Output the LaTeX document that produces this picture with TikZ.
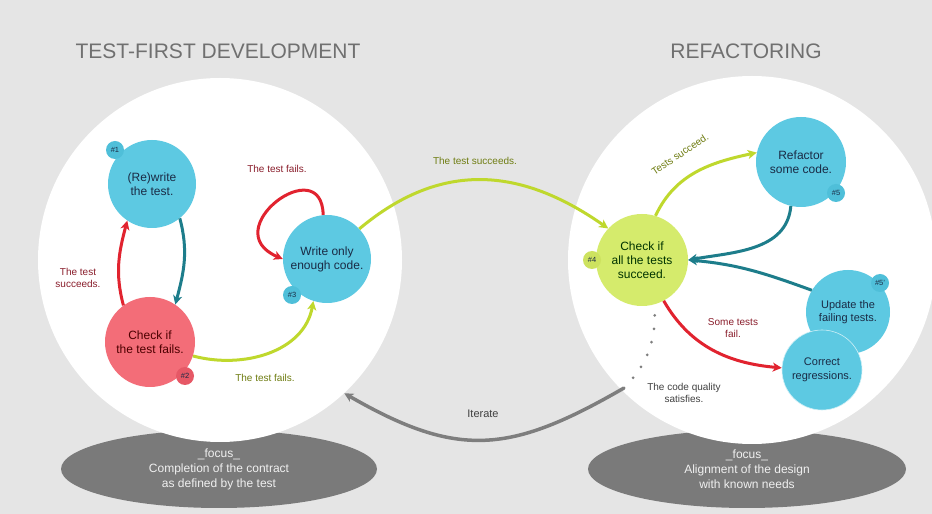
\documentclass[tikz,border=0pt]{standalone}
\usepackage{fontspec}
\setmainfont{Liberation Sans}
\usepackage{tikz}
\usetikzlibrary{arrows.meta, shapes.geometric}

\definecolor{bggray}{HTML}{E5E5E5}
\definecolor{titlegray}{HTML}{707070}
\definecolor{focusgray}{HTML}{7A7A7A}
\definecolor{nodecyan}{HTML}{5DC9E2}
\definecolor{badgecyan}{HTML}{4FBFD9}
\definecolor{nodered}{HTML}{F36D78}
\definecolor{badgered}{HTML}{E65866}
\definecolor{nodegreen}{HTML}{D5EB6C}
\definecolor{badgegreen}{HTML}{CDE25F}
\definecolor{arrowteal}{HTML}{1D7D8B}
\definecolor{arrowred}{HTML}{E1232F}
\definecolor{arrowgreen}{HTML}{BFD82D}
\definecolor{arrowgray}{HTML}{7E7E7E}
\definecolor{textnavy}{HTML}{1A2B45}
\definecolor{textmaroon}{HTML}{8A1E2C}
\definecolor{textolive}{HTML}{6F7D12}
\definecolor{textdark}{HTML}{404040}

\begin{document}
\begin{tikzpicture}[x=1pt, y=1pt,
  zone/.style={circle, fill=white, inner sep=0pt},
  focus/.style={ellipse, fill=focusgray, minimum width=316pt, minimum height=78pt, align=center, text=white!94!black, font=\fontsize{12}{15}\selectfont},
  title/.style={text=titlegray, font=\fontsize{21}{24}\selectfont},
  stage/.style={circle, inner sep=1pt, align=center, text=textnavy, font=\fontsize{12}{14}\selectfont},
  badge/.style={circle, minimum size=18pt, inner sep=0pt, text=textnavy, font=\fontsize{7.5}{8}\selectfont},
  lbl/.style={align=center, font=\fontsize{10}{12.5}\selectfont},
  arrow/.style={-{Stealth[length=9pt, width=9pt, inset=2.5pt]}, line width=3pt},
  dotline/.style={arrowgray, line width=3pt, line cap=round, dash pattern=on 0pt off 13.5pt}
]
  \useasboundingbox (0,0) rectangle (932,514);
  \fill[bggray] (0,0) rectangle (932,514);

  % focus ellipses and the two phases
  \node[focus] (lfocus) at (219,45) {\_focus\_\\Completion of the contract\\as defined by the test};
  \node[focus, minimum width=318pt] (rfocus) at (747,45) {\_focus\_\\Alignment of the design\\with known needs};
  \node[zone, minimum size=364pt] (tfd) at (220,254) {};
  \node[zone, minimum size=368pt] (rf) at (752,254) {};

  \node[title] (ttfd) at (218,463) {TEST-FIRST DEVELOPMENT};
  \node[title] (trf) at (746,463) {REFACTORING};

  % test-first stages
  \node[stage, fill=nodecyan, minimum size=88pt] (n1) at (152,330) {(Re)write\\the test.};
  \node[badge, fill=badgecyan] (b1) at (115,364) {\#1};
  \node[stage, fill=nodered, minimum size=90pt, text=black!70!red] (n2) at (150,172) {Check if\\the test fails.};
  \node[badge, fill=badgered] (b2) at (185,138) {\#2};
  \node[stage, fill=nodecyan, minimum size=88pt] (n3) at (327,255) {Write only\\enough code.};
  \node[badge, fill=badgecyan] (b3) at (292,219) {\#3};

  % refactoring stages
  \node[stage, fill=nodegreen, minimum size=92pt, text=black!80!green] (n4) at (642,254) {Check if\\all the tests\\succeed.};
  \node[badge, fill=badgegreen] (b4) at (592,254) {\#4};
  \node[stage, fill=nodecyan, minimum size=90pt] (n5) at (801,352) {Refactor\\some code.};
  \node[badge, fill=badgecyan] (b5) at (836,321) {\#5};
  \node[stage, fill=nodecyan, minimum size=84pt, font=\fontsize{11}{13.5}\selectfont] (n5p) at (848,202) {Update the\\failing tests.};
  \node[badge, fill=badgecyan] (b5p) at (880,231) {\#5'};
  \node[stage, fill=nodecyan, minimum size=80pt, draw=white!70!nodecyan, line width=0.6pt, font=\fontsize{11}{13.5}\selectfont] (nreg) at (822,144) {Correct\\regressions.};

  % labels
  \node[lbl, text=textmaroon] (l1) at (78,236) {The test\\succeeds.};
  \node[lbl, text=textmaroon] (l2) at (277,345) {The test fails.};
  \node[lbl, text=textolive] (l3) at (265,136) {The test fails.};
  \node[lbl, text=textolive] (l4) at (475,353) {The test succeeds.};
  \node[lbl, text=textolive, rotate=34] (l5) at (680,360) {Tests succeed.};
  \node[lbl, text=textmaroon] (l6) at (733,186) {Some tests\\fail.};
  \node[lbl, text=textdark] (l7) at (684,121) {The code quality\\satisfies.};
  \node[lbl, text=textdark, font=\fontsize{11}{13}\selectfont] (l8) at (483,100) {Iterate};
  \coordinate (qstart) at (624,126);

  % transitions
  \draw[arrow, arrowteal] (n1.-51) to[out=-75, in=75] (n2.56);
  \draw[arrow, arrowred] (n2.126) to[out=105, in=-105] (n1.-124);
  \draw[arrow, arrowred] (n3.95) .. controls (322,364) and (215,284) .. (n3.west);
  \draw[arrow, arrowgreen] (n2.-18) to[out=-15, in=-100] (n3.-108);
  \draw[arrow, arrowgreen] (n3.43) to[out=40, in=145, looseness=1.1] (n4.137);
  \draw[arrow, arrowgreen] (n4.73) to[out=65, in=-168] (n5.168);
  \draw[arrow, arrowteal] (n5.-103) to[out=-95, in=10] (n4.east);
  \draw[arrow, arrowteal] (n5p.149) to[out=160, in=-5] (n4.east);
  \draw[arrow, arrowred] (n4.-62) to[out=-60, in=175] (nreg.177);
  \draw[dotline, shorten <=11pt] (n4.-74) to[out=-90, in=45] (qstart);
  \draw[arrow, arrowgray, line width=3.5pt] (qstart) to[out=-150, in=-30, looseness=1.2] (tfd.-47);
\end{tikzpicture}
\end{document}
